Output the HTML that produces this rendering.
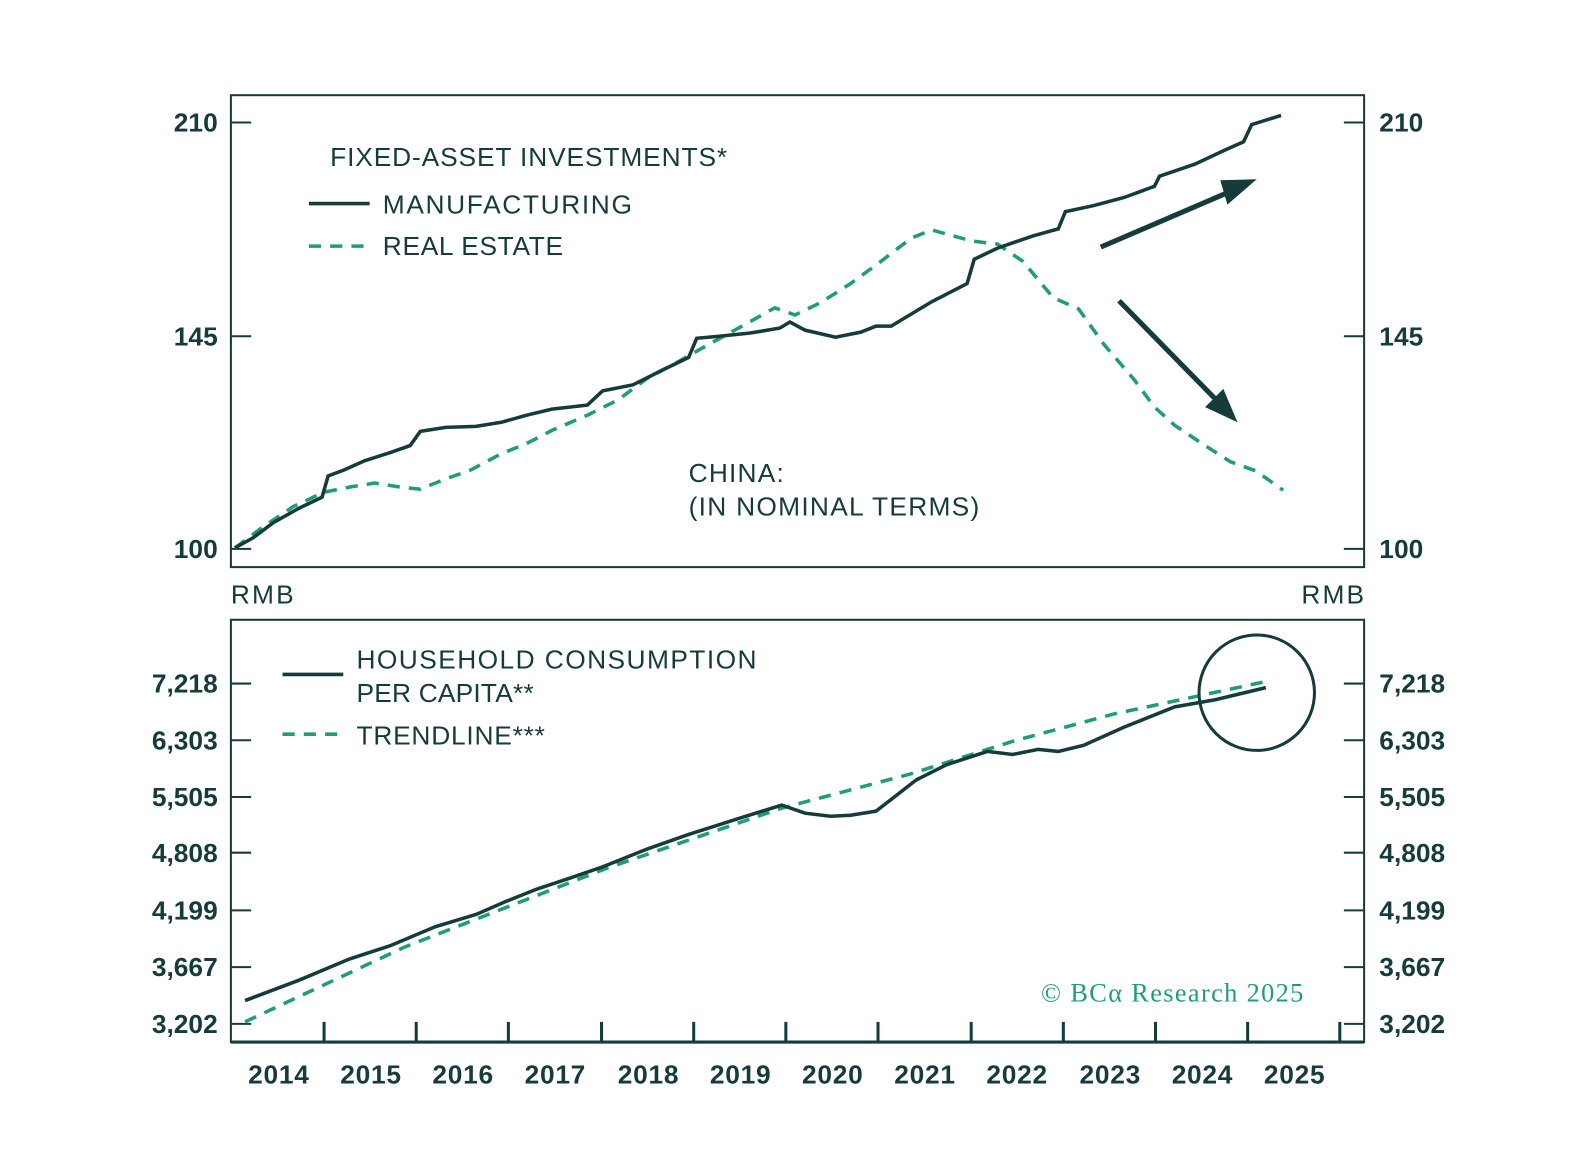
<!DOCTYPE html>
<html><head><style>
body{margin:0;background:#fff}
text{font-family:"Liberation Sans",sans-serif;fill:#163b3b}
</style></head><body>
<svg width="1588" height="1144" viewBox="0 0 1588 1144" xmlns="http://www.w3.org/2000/svg">
<g transform="scale(1.0127)">
<g stroke="#163b3b" fill="none" stroke-width="2">
<rect x="228" y="94" width="1119" height="466"/>
<rect x="228" y="612" width="1119" height="417"/>
<path d="M228 121h20M228 332h20M228 542h20M1327 121h20M1327 332h20M1327 542h20"/>
<path d="M228 675h20M228 731h20M228 787h20M228 842h20M228 899h20M228 955h20M228 1011h20M1327 675h20M1327 731h20M1327 787h20M1327 842h20M1327 899h20M1327 955h20M1327 1011h20"/>
<path stroke-width="3" d="M320 1009v20M411 1009v20M502 1009v20M594 1009v20M685 1009v20M776 1009v20M867 1009v20M959 1009v20M1050 1009v20M1141 1009v20M1232 1009v20M1323 1009v20M228 1029h1119"/>
</g>
<g font-size="26" font-weight="bold">
<text x="215" y="130" text-anchor="end">210</text><text x="215" y="341" text-anchor="end">145</text><text x="215" y="551" text-anchor="end">100</text>
<text x="1362" y="130">210</text><text x="1362" y="341">145</text><text x="1362" y="551">100</text>
<text x="215" y="684" text-anchor="end">7,218</text><text x="215" y="740" text-anchor="end">6,303</text><text x="215" y="796" text-anchor="end">5,505</text><text x="215" y="851" text-anchor="end">4,808</text><text x="215" y="908" text-anchor="end">4,199</text><text x="215" y="964" text-anchor="end">3,667</text><text x="215" y="1020" text-anchor="end">3,202</text>
<text x="1362" y="684">7,218</text><text x="1362" y="740">6,303</text><text x="1362" y="796">5,505</text><text x="1362" y="851">4,808</text><text x="1362" y="908">4,199</text><text x="1362" y="964">3,667</text><text x="1362" y="1020">3,202</text>
</g>
<g font-size="26" font-weight="bold">
<text x="245" y="1070" textLength="60">2014</text><text x="336" y="1070" textLength="60">2015</text><text x="427" y="1070" textLength="60">2016</text><text x="518" y="1070" textLength="60">2017</text><text x="610" y="1070" textLength="60">2018</text><text x="701" y="1070" textLength="60">2019</text><text x="792" y="1070" textLength="60">2020</text><text x="883" y="1070" textLength="60">2021</text><text x="974" y="1070" textLength="60">2022</text><text x="1066" y="1070" textLength="60">2023</text><text x="1157" y="1070" textLength="60">2024</text><text x="1248" y="1070" textLength="60">2025</text>
</g>
<g font-size="26">
<text x="228" y="596" textLength="62">RMB</text><text x="1285" y="596" textLength="62">RMB</text>
<text x="326" y="164" textLength="392">FIXED-ASSET INVESTMENTS*</text>
<text x="378" y="211" textLength="246">MANUFACTURING</text>
<text x="378" y="252" textLength="178">REAL ESTATE</text>
<text x="680" y="476" textLength="94">CHINA:</text>
<text x="680" y="509" textLength="287">(IN NOMINAL TERMS)</text>
<text x="352" y="660" textLength="395">HOUSEHOLD CONSUMPTION</text>
<text x="352" y="693" textLength="175">PER CAPITA**</text>
<text x="352" y="735" textLength="186">TRENDLINE***</text>
</g>
<text x="1028" y="989" textLength="259" font-size="26" style="fill:#1f9e74;font-family:'Liberation Serif',serif">© BCα Research 2025</text>
<g fill="none" stroke-width="3.5">
<path stroke="#163b3b" d="M305 201h60M279 666h60"/>
<path stroke="#1f9e74" stroke-dasharray="12,9" d="M305 243h60M279 725h60"/>
<polyline stroke="#1f9e74" stroke-dasharray="12,9" points="232,541 260,520 290,500 320,486 345,481 370,477 395,481 415,483 440,473 465,464 495,448 520,438 545,425 580,410 610,395 640,373 670,357 700,340 740,318 765,304 785,311 810,299 840,280 870,258 900,235 920,227 945,234 960,238 985,241 1010,258 1040,294 1065,305 1090,340 1120,375 1140,402 1160,420 1190,440 1215,456 1240,465 1267,484"/>
<polyline stroke="#163b3b" points="232,541 250,531 270,516 295,502 318,491 324,470 340,464 360,455 385,447 405,440 415,426 440,422 470,421 495,417 520,410 545,404 580,400 595,386 625,380 655,365 680,353 688,334 710,332 740,329 770,324 780,318 795,326 825,333 850,328 865,322 880,322 905,307 920,298 955,280 962,256 985,245 1020,233 1045,226 1052,209 1080,203 1110,195 1140,184 1145,174 1180,162 1210,148 1228,140 1236,123 1265,114"/>
<polyline stroke="#1f9e74" stroke-dasharray="12,9" points="242,1009 400,935 600,857 772,798 900,764 1000,732 1100,705 1250,673"/>
<polyline stroke="#163b3b" points="242,988 295,968 345,947 385,934 430,915 470,903 500,890 530,878 560,868 595,856 640,838 680,824 730,808 772,795 795,803 820,806 840,805 865,801 905,770 935,755 975,742 1000,745 1025,740 1045,742 1070,736 1110,718 1160,698 1200,691 1250,679"/>
<circle cx="1241" cy="684" r="57" stroke="#163b3b" stroke-width="3"/>
<path stroke="#163b3b" stroke-width="5" d="M1087 244L1222 186M1105 297L1208 402"/>
<path fill="#163b3b" stroke="none" d="M1241 177L1212 202L1205 178zM1222 417L1190 402L1208 384z"/>
</g>
</g>
</svg>
</body></html>
